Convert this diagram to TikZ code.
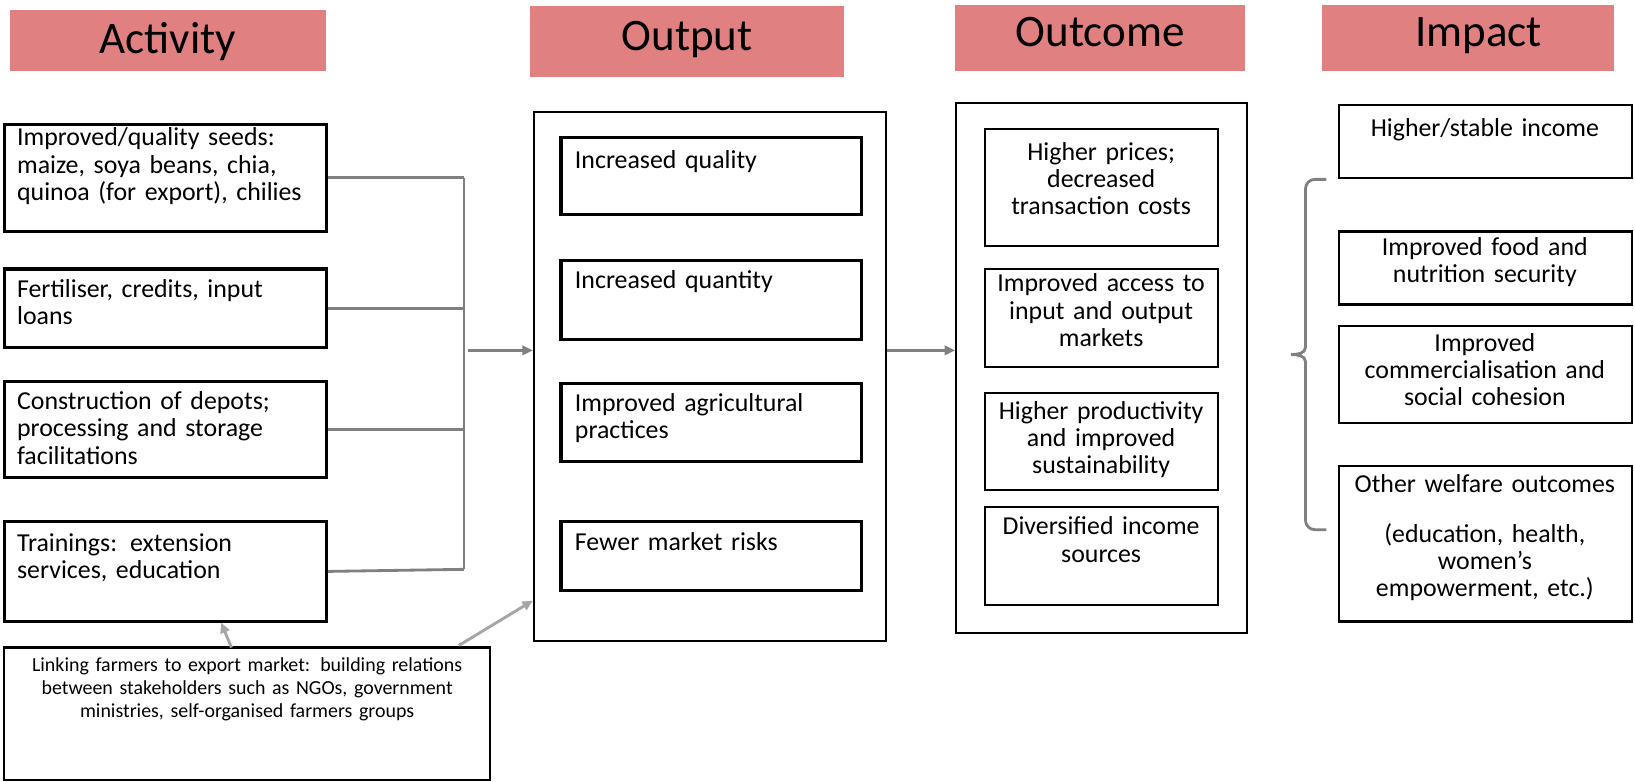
\documentclass[tikz,border=0pt]{standalone}
\usepackage{fontspec}
\setmainfont{Carlito}
\usetikzlibrary{arrows.meta,fit,calc}
\definecolor{hdr}{RGB}{224,128,128}
\definecolor{cgray}{RGB}{128,128,128}
\definecolor{lgray}{RGB}{166,166,166}
\begin{document}
\begin{tikzpicture}[x=0.5pt,y=-0.5pt,
  hdrbox/.style={fill=hdr, draw=none, inner sep=0pt},
  hdrtxt/.style={font=\fontsize{21.6}{24}\selectfont, inner sep=0pt, anchor=base},
  thickbox/.style={draw=black, line width=1.5pt, inner sep=0pt},
  thinbox/.style={draw=black, line width=1pt, inner sep=0pt},
  ltxt/.style={font=\fontsize{12.4}{13}\selectfont, align=left, text width=#1, inner sep=0pt, anchor=base west},
  ctxt/.style={font=\fontsize{12.4}{13}\selectfont, align=center, text width=#1, inner sep=0pt, anchor=base},
  stxt/.style={font=\fontsize{9.55}{11}\selectfont, align=center, text width=230pt, inner sep=0pt, anchor=base},
  conn/.style={draw=cgray, line width=1.35pt},
  arr/.style={conn, -{Triangle[length=5pt,width=4.5pt]}},
  larr/.style={draw=lgray, line width=1.4pt, -{Triangle[length=5pt,width=4.5pt]}},
]
\useasboundingbox (0,0) rectangle (1568,749);

% headers
\node[hdrbox, fit={(10,10)(313,68)}] (h1) {};
\node[hdrtxt] (h1t) at (161,51) {Activity};
\node[hdrbox, fit={(508,6)(809,74)}] (h2) {};
\node[hdrtxt] (h2t) at (659,48) {Output};
\node[hdrbox, fit={(916,5)(1194,68)}] (h3) {};
\node[hdrtxt] (h3t) at (1055,45) {Outcome};
\node[hdrbox, fit={(1268,5)(1548,68)}] (h4) {};
\node[hdrtxt] (h4t) at (1418,45) {Impact};

% activity
\node[thickbox, fit={(4,119)(313,222)}] (a1) {};
\node[ltxt=150pt] (a1t) at (16,140) {Improved/quality seeds:\\maize, soya beans, chia,\\quinoa (for export), chilies};
\node[thickbox, fit={(4,258)(313,333)}] (a2) {};
\node[ltxt=150pt] (a2t) at (16,285) {Fertiliser, credits, input\\loans};
\node[thickbox, fit={(4,366)(313,458)}] (a3) {};
\node[ltxt=150pt] (a3t) at (16,393) {Construction of depots;\\processing and storage\\facilitations};
\node[thickbox, fit={(4,500)(313,596)}] (a4) {};
\node[ltxt=150pt] (a4t) at (16,529) {Trainings: extension\\services, education};
\node[thickbox, line width=1.2pt, fit={(4,621)(470,748)}] (b) {};
\node[stxt] (bt) at (237,644) {Linking farmers to export market: building relations\\between stakeholders such as NGOs, government\\ministries, self-organised farmers groups};

% output
\node[thinbox, fit={(512,107)(850,615)}] (out) {};
\node[thickbox, fit={(538,132)(826,206)}] (o1) {};
\node[ltxt=135pt] (o1t) at (551,162) {Increased quality};
\node[thickbox, fit={(538,250)(826,326)}] (o2) {};
\node[ltxt=135pt] (o2t) at (551,277) {Increased quantity};
\node[thickbox, fit={(538,368)(826,443)}] (o3) {};
\node[ltxt=135pt] (o3t) at (551,395) {Improved agricultural\\practices};
\node[thickbox, fit={(538,500)(826,566)}] (o4) {};
\node[ltxt=135pt] (o4t) at (551,528) {Fewer market risks};

% outcome
\node[thinbox, fit={(917,99)(1196,607)}] (oc) {};
\node[thinbox, fit={(945,124)(1168,236)}] (c1) {};
\node[ctxt=108pt] (c1t) at (1056,154) {Higher prices;\\decreased\\transaction costs};
\node[thinbox, fit={(945,258)(1168,352)}] (c2) {};
\node[ctxt=108pt] (c2t) at (1056,280) {Improved access to\\input and output\\markets};
\node[thinbox, fit={(945,377)(1168,470)}] (c3) {};
\node[ctxt=108pt] (c3t) at (1056,402) {Higher productivity\\and improved\\sustainability};
\node[thinbox, fit={(945,486)(1168,580)}] (c4) {};
\node[ctxt=108pt] (c4t) at (1056,513) {Diversified income\\sources};

% impact
\node[thinbox, fit={(1284,101)(1565,171)}] (i1) {};
\node[ctxt=138pt] (i1t) at (1424,131) {Higher/stable income};
\node[thinbox, fit={(1284,222)(1565,292)}] (i2) {};
\node[ctxt=138pt] (i2t) at (1424,245) {Improved food and\\nutrition security};
\node[thinbox, fit={(1284,313)(1565,406)}] (i3) {};
\node[ctxt=138pt] (i3t) at (1424,337) {Improved\\commercialisation and\\social cohesion};
\node[thinbox, fit={(1284,447)(1565,596)}] (i4) {};
\node[ctxt=138pt] (i4t) at (1424,472) {Other welfare outcomes\\[11pt](education, health,\\women’s\\empowerment, etc.)};

% connectors
\coordinate (jt) at (445,171);
\coordinate (jb) at (445,546);
\draw[conn] (a1.east) -- (a1.east -| jt);
\draw[conn] (a2.east) -- (a2.east -| jt);
\draw[conn] (a3.east) -- (a3.east -| jt);
\draw[conn] (a4.east) -- (jb);
\draw[conn] (jt) -- (jb);
\coordinate (ja) at (449,336);
\draw[arr] (ja) -- (ja -| out.west);
\coordinate (kb) at (850,336);
\draw[arr] (kb -| out.east) -- (kb -| oc.west);

% bottom arrows
\coordinate (b1) at (222,621);
\coordinate (t1) at (212,597);
\draw[larr] (b1) -- (t1);
\coordinate (b2) at (440,619);
\coordinate (t2) at (511,576);
\draw[larr] (b2) -- (t2);

% brace
\draw[conn] (1272,172) -- (1261,172) to[out=180,in=90] (1252,181) -- (1252,333) to[out=-90,in=0] (1238,340) to[out=0,in=90] (1252,347) -- (1252,499) to[out=-90,in=180] (1261,508) -- (1272,508);
\end{tikzpicture}
\end{document}
